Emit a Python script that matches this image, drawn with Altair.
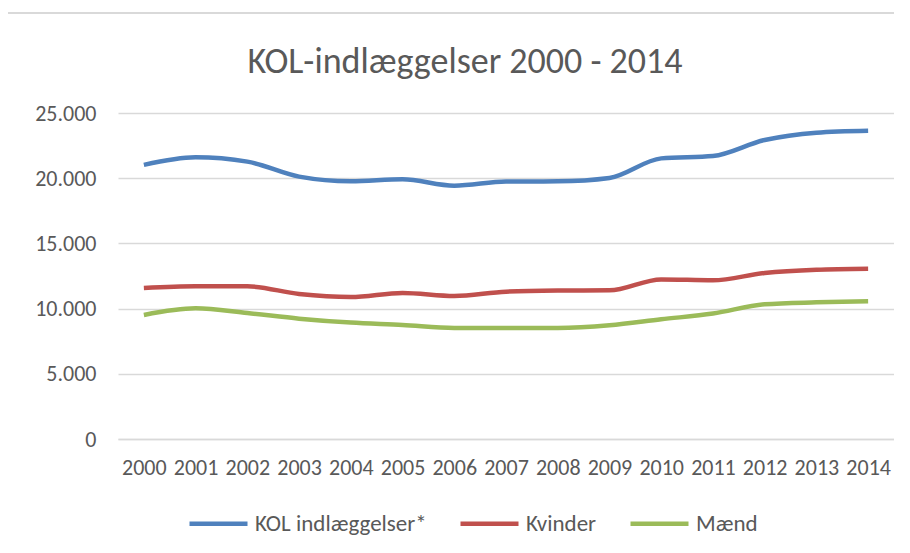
import altair as alt
import pandas as pd

years = [str(y) for y in range(2000, 2015)]
kol_total = [21020, 21600, 21270, 20120, 19760, 19920, 19430, 19740, 19760, 20020, 21520, 21700, 22930, 23490, 23640]
kvinder = [11580, 11710, 11710, 11120, 10890, 11200, 10970, 11300, 11380, 11400, 12240, 12170, 12730, 12980, 13060]
maend = [9510, 10020, 9660, 9230, 8930, 8750, 8520, 8520, 8520, 8720, 9180, 9620, 10330, 10480, 10560]

series_names = ["KOL indlæggelser*", "Kvinder", "Mænd"]
series_colors = ["#4F81BD", "#C0504D", "#9BBB59"]
title_text = "KOL-indlæggelser 2000 - 2014"

rows = []
for name, vals in zip(series_names, [kol_total, kvinder, maend]):
    for y, v in zip(years, vals):
        rows.append({"year": y, "value": v, "series": name})
df = pd.DataFrame(rows)

FONT = "Carlito, Lato, sans-serif"
W, H = 776, 326
LBL = 22

frame = alt.Chart(pd.DataFrame({"a": [0]})).mark_rect(
    fillOpacity=0, stroke="#d9d9d9", strokeWidth=2, clip=False
).encode(
    x=alt.value(-112), x2=alt.value(W + 120),
    y=alt.value(-100), y2=alt.value(H + 220)
)

title = alt.Chart(pd.DataFrame({"t": [title_text]})).mark_text(
    font=FONT, fontSize=36, color="#595959", align="center", baseline="alphabetic"
).encode(text="t:N", x=alt.value(347), y=alt.value(-40))

lines = alt.Chart(df).mark_line(strokeWidth=4.5, interpolate="monotone").encode(
    x=alt.X("year:N", sort=years, title=None,
            scale=alt.Scale(paddingInner=0, paddingOuter=0.5),
            axis=alt.Axis(labelAngle=0, ticks=False, domain=True, domainColor="#d9d9d9",
                          domainWidth=1.5, labelPadding=18, labelFontSize=LBL,
                          labelColor="#595959", labelFont=FONT, grid=False)),
    y=alt.Y("value:Q", title=None,
            scale=alt.Scale(domain=[0, 25000], nice=False),
            axis=alt.Axis(values=[0, 5000, 10000, 15000, 20000, 25000], ticks=False,
                          domain=False, gridColor="#d9d9d9", gridWidth=1.5,
                          labelPadding=22, labelFontSize=LBL, labelColor="#595959",
                          labelFont=FONT,
                          labelExpr="replace(format(datum.value, ','), ',', '.')")),
    color=alt.Color("series:N", sort=series_names, title=None,
                    scale=alt.Scale(domain=series_names, range=series_colors),
                    legend=alt.Legend(orient="none", legendX=69, legendY=379,
                                      direction="horizontal", symbolType="stroke",
                                      symbolSize=3364, symbolStrokeWidth=4.5,
                                      labelFontSize=23, labelFont=FONT, labelLimit=400,
                                      labelColor="#595959", columnPadding=24,
                                      labelOffset=5))
)

chart = alt.layer(frame, title, lines).properties(
    width=W, height=H,
    autosize=alt.AutoSizeParams(type="none"),
    padding={"left": 110, "top": 105, "right": 0, "bottom": 110},
).configure_view(stroke=None)

chart.save("out.html", embed_options={"renderer": "svg", "actions": False})
